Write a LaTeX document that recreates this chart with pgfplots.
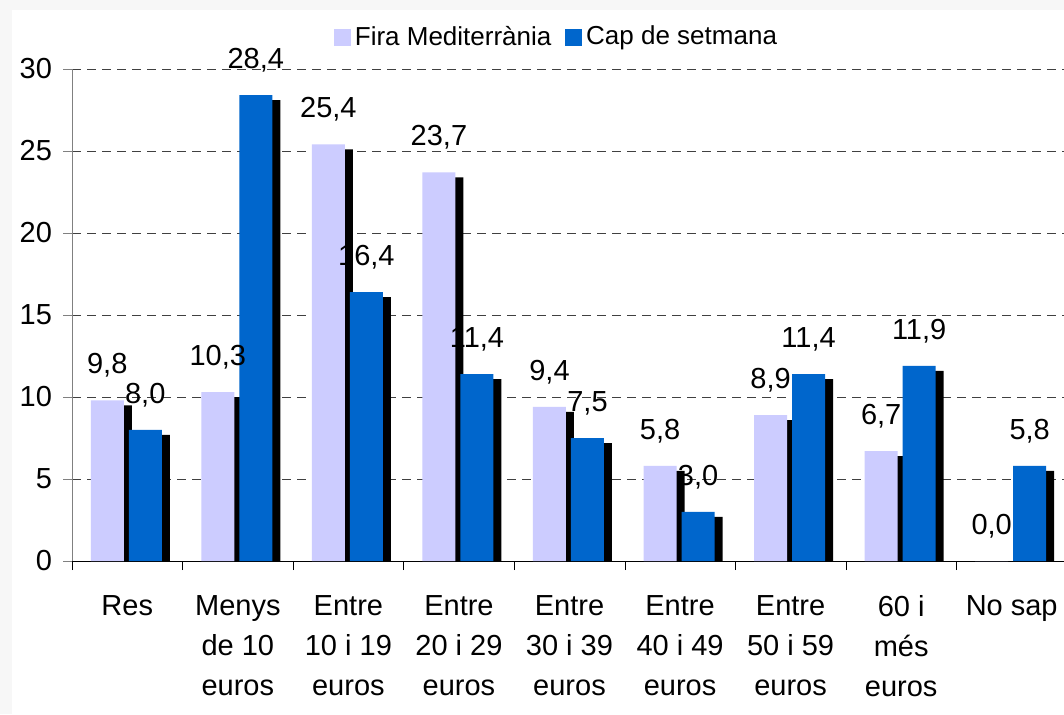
\documentclass[border=0pt]{standalone}
\usepackage{fontspec}
\setmainfont{Liberation Sans}
\usepackage{pgfplots}
\usepackage{pgfplotstable}
\pgfplotsset{compat=1.18}

\definecolor{lav}{HTML}{CCCCFF}
\definecolor{capblue}{HTML}{0066CC}
\definecolor{bgray}{HTML}{F7F7F7}

\pgfplotstableread{
x fira cap
0 9.8 8.0
1 10.3 28.4
2 25.4 16.4
3 23.7 11.4
4 9.4 7.5
5 5.8 3.0
6 8.9 11.4
7 6.7 11.9
8 0.0 5.8
}\data

\newcommand{\lbl}{\fontsize{14.5}{20}\selectfont}

\begin{document}
\begin{tikzpicture}
\useasboundingbox (0,0) rectangle (532pt,357pt);
\fill[bgray] (0,0) rectangle (532pt,357pt);
\fill[white] (6pt,0) rectangle (532pt,352pt);
\clip (0,0) rectangle (532pt,357pt);
\begin{axis}[
    at={(36pt,76.5pt)}, anchor=south west,
    scale only axis,
    width=497.5pt, height=246pt,
    ybar,
    bar width=16.5pt,
    xmin=-0.5, xmax=8.5,
    ymin=0, ymax=30,
    xtick={-0.5,0.5,...,8.5},
    x tick label as interval,
    xticklabels={Res,{Menys\\de 10\\euros},{Entre\\10 i 19\\euros},{Entre\\20 i 29\\euros},{Entre\\30 i 39\\euros},{Entre\\40 i 49\\euros},{Entre\\50 i 59\\euros},{60 i\\més\\euros},{No sap}},
    xticklabel style={align=center, font=\lbl, anchor=north, yshift=-9pt},
    ytick={0,5,...,30},
    yticklabel style={font=\lbl, xshift=-2pt},
    /pgf/number format/assume math mode=true,
    axis x line*=bottom, axis y line*=left,
    x axis line style={black, -},
    y axis line style={gray, -},
    tick align=outside,
    major tick length=4.5pt,
    xtick style={black},
    ytick style={gray},
    ymajorgrids,
    grid style={black!75, dash pattern=on 4.5pt off 3pt},
    nodes near coords style={font=\lbl, anchor=base, yshift=13.25pt},
    legend style={at={(0.488,1.065)}, anchor=center, draw=none, fill=none,
        legend columns=-1, font=\fontsize{13}{15}\selectfont,
        /tikz/every even column/.append style={column sep=5pt}},
]
\addlegendimage{legend image code/.code={\fill[lav] (-2pt,-4pt) rectangle (6pt,4pt);}}
\addlegendentry{Fira Mediterrània}
\addlegendimage{legend image code/.code={\fill[capblue] (-2pt,-4pt) rectangle (6pt,4pt);}}
\addlegendentry{Cap de setmana}

\addplot[forget plot, fill=black, draw=none, bar shift=-6pt, yshift=-2.5pt] table[x=x, y=fira] {\data};
\addplot[forget plot, fill=lav, draw=none, bar shift=-10pt,
    nodes near coords, /pgf/number format/.cd, fixed, fixed zerofill, precision=1, use comma]
    table[x=x, y=fira] {\data};
\addplot[forget plot, fill=black, draw=none, bar shift=13pt, yshift=-2.5pt] table[x=x, y=cap] {\data};
\addplot[forget plot, fill=capblue, draw=none, bar shift=9pt,
    nodes near coords, /pgf/number format/.cd, fixed, fixed zerofill, precision=1, use comma]
    table[x=x, y=cap] {\data};
\end{axis}
\end{tikzpicture}
\end{document}
